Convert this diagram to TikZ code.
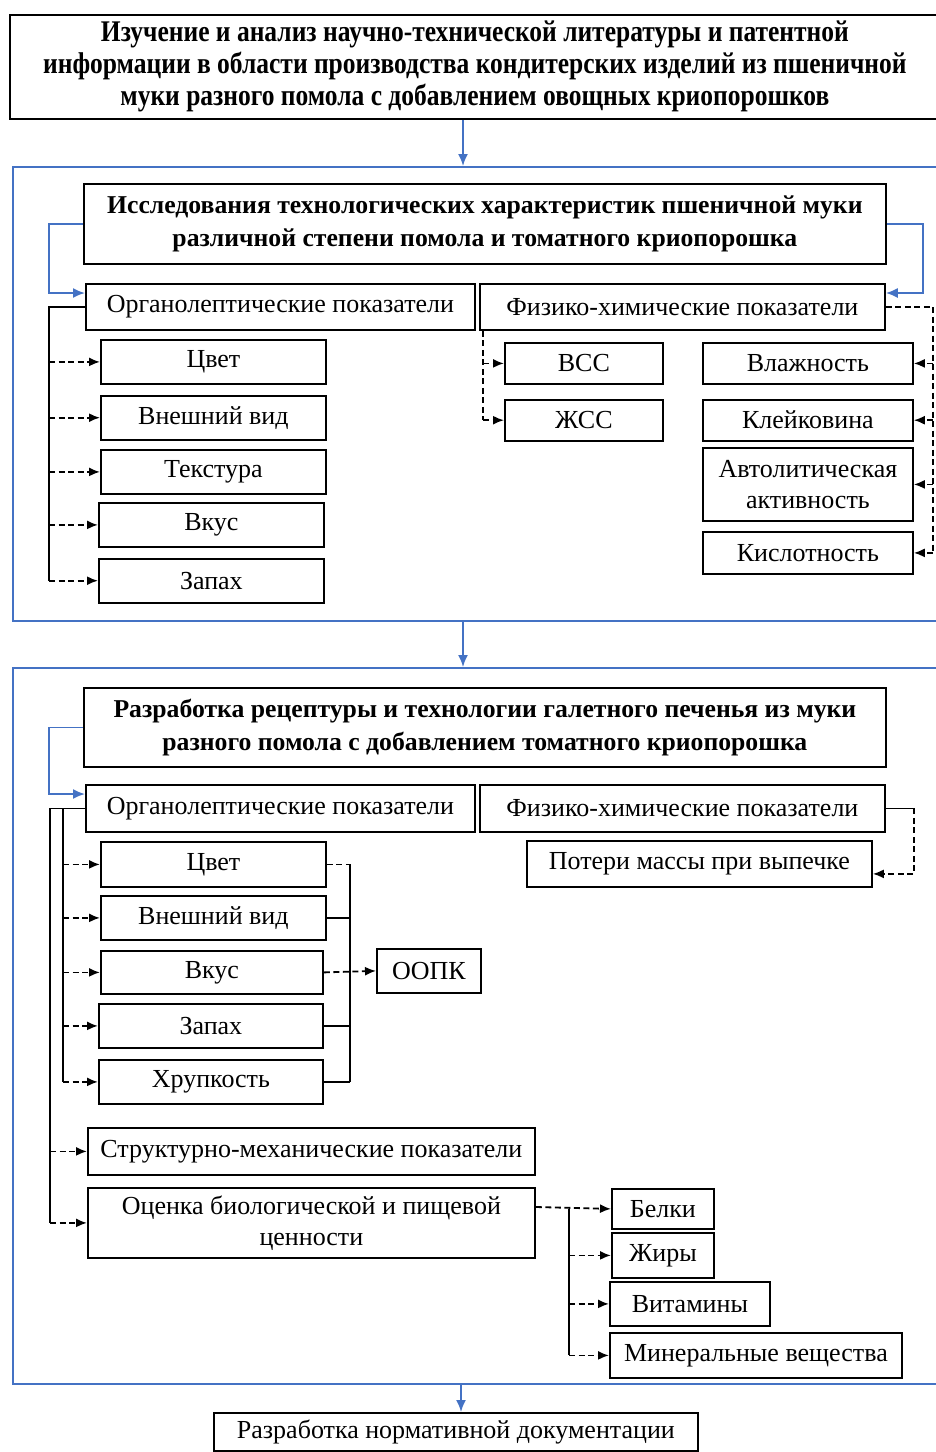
\documentclass[tikz,border=0pt]{standalone}
\usepackage{fontspec}
\setmainfont{Liberation Serif}
\newfontfamily\headfont[FakeStretch=0.85]{Liberation Serif}
\usetikzlibrary{positioning, calc, arrows.meta}
\definecolor{frameblue}{RGB}{68,114,196}
\tikzstyle{Box} = [
draw, line width=1.8pt, rectangle, anchor=north west,
inner sep=0pt, align=center,
font=\fontsize{26}{31}\selectfont]
\tikzstyle{Frame} = [draw=frameblue, line width=1.8pt, rectangle,
anchor=north west, inner sep=0pt]
\tikzstyle{Blue} = [draw=frameblue, line width=1.8pt,
-{Latex[length=12pt, width=10pt]}]
\tikzstyle{Dash} = [line width=1.8pt, dash pattern=on 6pt off 3.5pt,
-{Latex[length=11pt, width=9pt]}]
\tikzstyle{Line} = [line width=1.8pt]
\tikzstyle{DLine} = [line width=1.8pt, dash pattern=on 6pt off 3.5pt]

\begin{document}
\begin{tikzpicture}[x=1pt, y=-1pt]
    \useasboundingbox (0,0) rectangle (936,1452);

    % frames
    \node[Frame, minimum width=930, minimum height=454] (2) at (12,166) {};
    \node[Frame, minimum width=930, minimum height=716] (17) at (12,667) {};

    \node[Box, minimum width=930, minimum height=104,
        font=\headfont\bfseries\fontsize{30}{32}\selectfont] (1) at (9,14)
        {Изучение и анализ научно-технической литературы и патентной\\
        информации в области производства кондитерских изделий из пшеничной\\
        муки разного помола с добавлением овощных криопорошков};

    % first block
    \node[Box, minimum width=802, minimum height=80, font=\bfseries\fontsize{25.7}{33}\selectfont] (3) at (83,183)
        {Исследования технологических характеристик пшеничной муки\\
        различной степени помола и томатного криопорошка};
    \node[Box, minimum width=389, minimum height=46] (4) at (85,283) {Органолептические показатели};
    \node[Box, minimum width=405, minimum height=46] (5) at (479,283) {Физико-химические показатели};
    \node[Box, minimum width=225, minimum height=44] (6) at (100,339) {Цвет};
    \node[Box, minimum width=225, minimum height=44, below=10pt of 6.south west, anchor=north west] (7) {Внешний вид};
    \node[Box, minimum width=225, minimum height=44] (8) at (100,449) {Текстура};
    \node[Box, minimum width=225, minimum height=44] (9) at (98,502) {Вкус};
    \node[Box, minimum width=225, minimum height=44, below=10pt of 9.south west, anchor=north west] (10) {Запах};
    \node[Box, minimum width=158, minimum height=41] (11) at (504,342) {ВСС};
    \node[Box, minimum width=158, minimum height=41, below=14pt of 11.south west, anchor=north west] (12) {ЖСС};
    \node[Box, minimum width=210, minimum height=41] (13) at (702,342) {Влажность};
    \node[Box, minimum width=210, minimum height=41, below=14pt of 13.south west, anchor=north west] (14) {Клейковина};
    \node[Box, minimum width=210, minimum height=73] (15) at (702,447) {Автолитическая\\ активность};
    \node[Box, minimum width=210, minimum height=42] (16) at (702,531) {Кислотность};

    % second block
    \node[Box, minimum width=802, minimum height=79, font=\bfseries\fontsize{25.7}{33}\selectfont] (18) at (83,687)
        {Разработка рецептуры и технологии галетного печенья из муки\\
        разного помола с добавлением томатного криопорошка};
    \node[Box, minimum width=389, minimum height=47] (19) at (85,784) {Органолептические показатели};
    \node[Box, minimum width=405, minimum height=47] (20) at (479,784) {Физико-химические показатели};
    \node[Box, minimum width=345, minimum height=46] (21) at (526,840) {Потери массы при выпечке};
    \node[Box, minimum width=225, minimum height=45] (22) at (100,841) {Цвет};
    \node[Box, minimum width=225, minimum height=44] (23) at (100,895) {Внешний вид};
    \node[Box, minimum width=222, minimum height=43] (24) at (100,950) {Вкус};
    \node[Box, minimum width=224, minimum height=44] (25) at (98,1003) {Запах};
    \node[Box, minimum width=224, minimum height=44] (26) at (98,1059) {Хрупкость};
    \node[Box, minimum width=104, minimum height=44] (27) at (376,948) {ООПК};
    \node[Box, minimum width=447, minimum height=47] (28) at (87,1127) {Структурно-механические показатели};
    \node[Box, minimum width=447, minimum height=70] (29) at (87,1187) {Оценка биологической и пищевой\\ ценности};
    \node[Box, minimum width=102, minimum height=40] (30) at (611,1188) {Белки};
    \node[Box, minimum width=102, minimum height=45] (31) at (611,1232) {Жиры};
    \node[Box, minimum width=160, minimum height=44] (32) at (609,1281) {Витамины};
    \node[Box, minimum width=292, minimum height=45] (33) at (609,1332) {Минеральные вещества};

    \node[Box, minimum width=484, minimum height=38] (34) at (213,1412) {Разработка нормативной документации};

    % trunk positions
    \coordinate (a) at (463,0);
    \coordinate (b) at (461,0);
    \coordinate (c) at (49,0);
    \coordinate (d) at (483,0);
    \coordinate (e) at (933,0);
    \coordinate (f) at (50,0);
    \coordinate (g) at (63,0);
    \coordinate (h) at (350,0);
    \coordinate (k) at (914,0);
    \coordinate (m) at (569,0);

    % blue arrows
    \draw[Blue] (1.south -| a) -- (2.north -| a);
    \draw[Blue] (2.south -| a) -- (17.north -| a);
    \draw[Blue] (17.south -| b) -- (34.north -| b);
    \draw[Blue] (3.west) -- (3.west -| c) |- ($(4.north west)+(0,10)$);
    \draw[Blue] (3.east) -- ++(36,0) |- ($(5.north east)+(0,10)$);
    \draw[Blue] (18.west) -- (18.west -| c) |- ($(19.north west)+(0,10)$);

    % first block
    \draw[Line] (4.west) -- (4.west -| c) -- (c |- 10.west);
    \foreach \n in {6,...,10}
        \draw[Dash] (c |- \n.west) -- (\n.west);
    \draw[DLine] (5.south -| d) -- (d |- 12.west);
    \foreach \n in {11,12}
        \draw[Dash] (d |- \n.west) -- (\n.west);
    \draw[DLine] (5.east) -- (5.east -| e) -- (e |- 16.east);
    \foreach \n in {13,...,16}
        \draw[Dash] (e |- \n.east) -- (\n.east);

    % second block
    \draw[Line] (19.west) -- (19.west -| f) -- (f |- 29.west);
    \draw[Line] (19.west -| g) -- (g |- 26.west);
    \foreach \n in {22,...,26}
        \draw[Dash] (g |- \n.west) -- (\n.west);
    \foreach \n in {28,29}
        \draw[Dash] (f |- \n.west) -- (\n.west);
    \draw[DLine] (22.east) -- (22.east -| h);
    \draw[Line] (22.east -| h) -- (h |- 26.east);
    \foreach \n in {23,25,26}
        \draw[Line] (\n.east) -- (h |- \n.east);
    \draw[Dash] (24.east) -- (27.west);
    \draw[Line] (20.east) -- (20.east -| k);
    \draw[Dash] (20.east -| k) |- ($(21.east)+(0,10)$);
    \draw[Dash] ($(29.north east)+(0,20)$) -- (30.west);
    \draw[Line] (m |- 30.west) -- (m |- 33.west);
    \foreach \n in {31,32,33}
        \draw[Dash] (m |- \n.west) -- (\n.west);
\end{tikzpicture}
\end{document}
